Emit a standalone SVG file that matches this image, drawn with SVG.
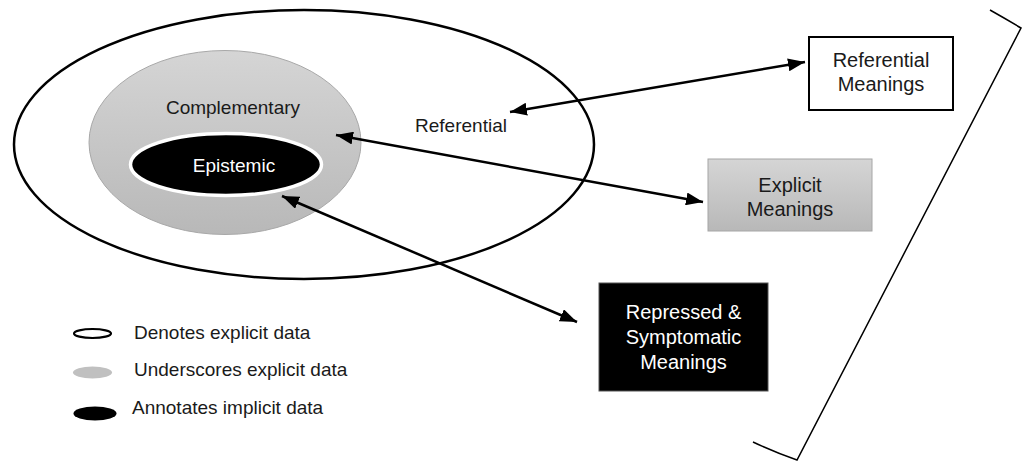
<svg xmlns="http://www.w3.org/2000/svg" width="1023" height="462" viewBox="0 0 1023 462">
<style>
text{font-family:"Liberation Sans",Arial,sans-serif;font-size:19px;fill:#1a1a1a}
.c{text-anchor:middle}
.w{fill:#ffffff}
.b{font-size:20px}
.conn line{stroke:#000;stroke-width:2.5;marker-start:url(#ah);marker-end:url(#ah)}
</style>
<defs>
<linearGradient id="gg" x1="0" y1="0" x2="0" y2="1">
<stop offset="0" stop-color="#d5d5d5"/>
<stop offset="1" stop-color="#b8b8b8"/>
</linearGradient>
<marker id="ah" markerUnits="userSpaceOnUse" markerWidth="17" markerHeight="13" viewBox="0 0 17 13" refX="17" refY="6.5" orient="auto-start-reverse">
<path d="M0,0 L17,6.5 L0,13 z" fill="#000"/>
</marker>
</defs>
<rect width="1023" height="462" fill="#fff"/>
<g id="outer">
<ellipse cx="304" cy="144.5" rx="290" ry="134.5" fill="none" stroke="#000" stroke-width="2.5"/>
<text x="461" y="132" class="c">Referential</text>
</g>
<g id="complementary">
<ellipse cx="225" cy="142.5" rx="136" ry="92" fill="url(#gg)" stroke="#a8a8a8" stroke-width="1"/>
<text x="233" y="114" class="c">Complementary</text>
</g>
<g id="epistemic">
<ellipse cx="226" cy="164.5" rx="95.5" ry="31" fill="#000" stroke="#fff" stroke-width="3.5"/>
<text x="234" y="172" class="c w">Epistemic</text>
</g>
<g id="referential-meanings">
<rect x="809" y="37" width="144" height="73" fill="#fff" stroke="#000" stroke-width="2"/>
<text x="881" y="67" class="c b">Referential</text>
<text x="881" y="91" class="c b">Meanings</text>
</g>
<g id="explicit-meanings">
<rect x="708" y="159" width="164" height="72" fill="url(#gg)" stroke="#a6a6a6" stroke-width="1"/>
<text x="790" y="192" class="c b">Explicit</text>
<text x="790" y="216" class="c b">Meanings</text>
</g>
<g id="repressed-meanings">
<rect x="599" y="283" width="169" height="108" fill="#000" stroke="#555" stroke-width="1"/>
<text x="683.5" y="319" class="c b w">Repressed &amp;</text>
<text x="683.5" y="344" class="c b w">Symptomatic</text>
<text x="683.5" y="369" class="c b w">Meanings</text>
</g>
<g id="bracket">
<path d="M990,10 Q1006,19 1021,28 L797,460 Q774,452 753,442" fill="none" stroke="#000" stroke-width="1.5"/>
</g>
<g id="legend">
<ellipse cx="92.5" cy="333.5" rx="18.5" ry="4.5" fill="#fff" stroke="#000" stroke-width="2.2"/>
<text x="134" y="339">Denotes explicit data</text>
<ellipse cx="92.5" cy="372.5" rx="19.5" ry="6" fill="#c0c0c0"/>
<text x="134" y="376">Underscores explicit data</text>
<ellipse cx="95" cy="413.5" rx="21.5" ry="7" fill="#000"/>
<text x="132" y="414">Annotates implicit data</text>
</g>
<g id="connectors" class="conn">
<line x1="510" y1="112" x2="805" y2="62"/>
<line x1="336" y1="135" x2="703" y2="202"/>
<line x1="282" y1="196" x2="577" y2="322"/>
</g>
</svg>
